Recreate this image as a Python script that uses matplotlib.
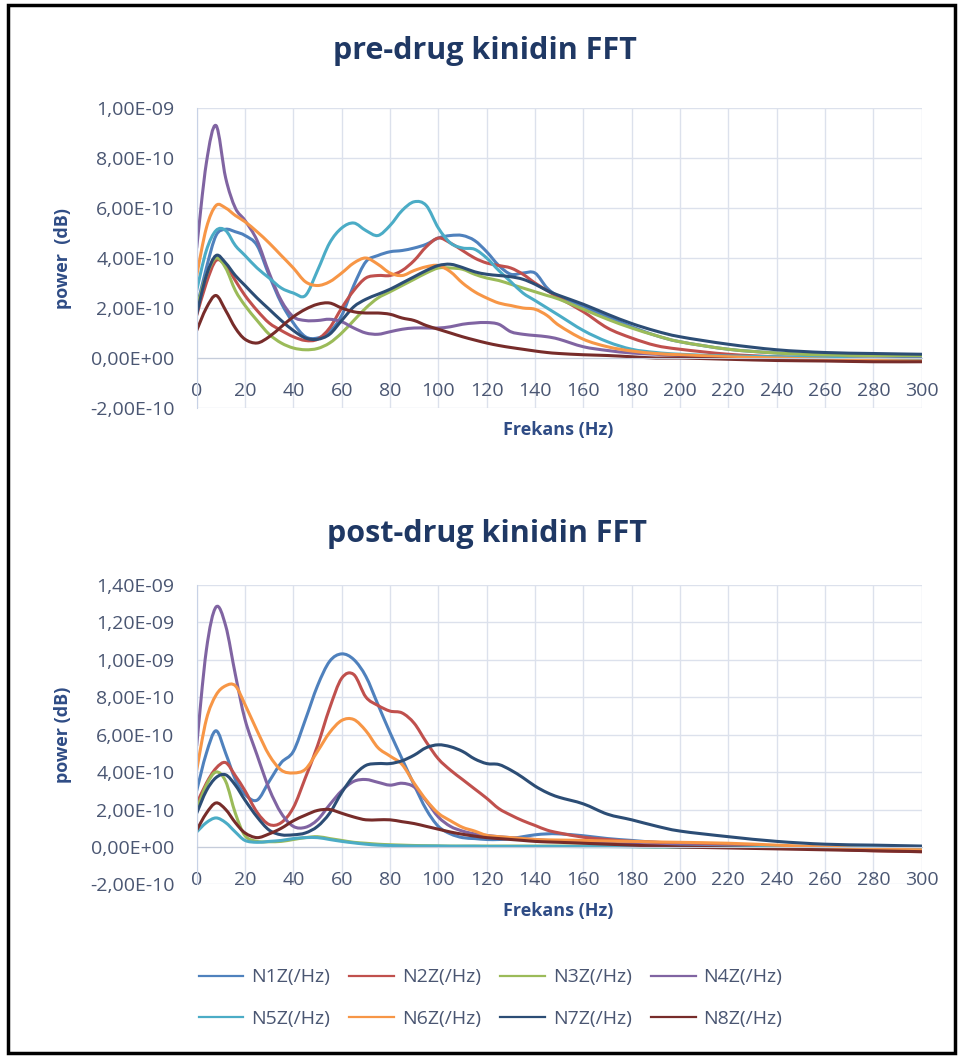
import numpy as np
import matplotlib
matplotlib.use("Agg")
import matplotlib.pyplot as plt
from matplotlib.path import Path
from matplotlib.patches import PathPatch, Rectangle
from matplotlib.lines import Line2D
from matplotlib.ticker import FuncFormatter

plt.rcParams['font.family'] = ['Open Sans', 'DejaVu Sans']

# frequency grid (Hz), values in units of 1e-10
freq = [0, 4, 8, 12, 16, 20, 25, 30, 35, 40,
        45, 50, 55, 60, 65, 70, 75, 80, 85, 90,
        95, 100, 105, 110, 115, 120, 125, 130, 135, 140,
        145, 150, 160, 170, 180, 190, 200, 220, 240, 260,
        280, 300]
UNIT = 1e-10

names = ["N1Z(/Hz)", "N2Z(/Hz)", "N3Z(/Hz)", "N4Z(/Hz)",
         "N5Z(/Hz)", "N6Z(/Hz)", "N7Z(/Hz)", "N8Z(/Hz)"]
colors = ['#4F81BD', '#C0504D', '#9BBB59', '#8064A2',
          '#4BACC6', '#F79646', '#2C4D75', '#772C2A']

# ---- pre-drug ----
pre_n1 = [2.0, 3.6, 4.9, 5.15, 5.05, 4.9, 4.5, 3.3, 2.2, 1.4,
          0.85, 0.8, 1.05, 1.7, 2.9, 3.85, 4.1, 4.25, 4.3, 4.4,
          4.55, 4.8, 4.9, 4.9, 4.7, 4.25, 3.7, 3.35, 3.4, 3.4,
          2.8, 2.45, 2.05, 1.65, 1.25, 0.9, 0.65, 0.35, 0.2, 0.12,
          0.08, 0.05]
pre_n2 = [1.7, 3.0, 3.9, 3.7, 3.1, 2.5, 1.9, 1.4, 1.1, 0.85,
          0.7, 0.75, 1.2, 2.0, 2.7, 3.2, 3.3, 3.3, 3.5, 3.9,
          4.45, 4.8, 4.6, 4.3, 4.0, 3.8, 3.7, 3.6, 3.35, 3.0,
          2.7, 2.4, 1.85, 1.2, 0.8, 0.5, 0.35, 0.15, 0.05, 0.0,
          -0.05, -0.05]
pre_n3 = [2.0, 3.3, 4.0, 3.6, 2.7, 2.1, 1.5, 0.95, 0.6, 0.4,
          0.33, 0.38, 0.6, 1.0, 1.5, 2.0, 2.4, 2.65, 2.9, 3.15,
          3.4, 3.6, 3.6, 3.55, 3.35, 3.2, 3.1, 2.95, 2.8, 2.65,
          2.5, 2.35, 1.95, 1.55, 1.2, 0.9, 0.65, 0.35, 0.2, 0.12,
          0.1, 0.1]
pre_n4 = [4.4, 7.8, 9.3, 7.2, 6.0, 5.5, 4.7, 3.4, 2.3, 1.65,
          1.5, 1.5, 1.55, 1.45, 1.2, 1.0, 0.95, 1.05, 1.15, 1.2,
          1.2, 1.2, 1.25, 1.35, 1.4, 1.42, 1.35, 1.05, 0.95, 0.9,
          0.85, 0.75, 0.45, 0.3, 0.2, 0.15, 0.1, 0.05, 0.0, -0.05,
          -0.1, -0.1]
pre_n5 = [2.7, 4.3, 5.1, 5.1, 4.5, 4.1, 3.6, 3.2, 2.8, 2.6,
          2.5, 3.5, 4.6, 5.2, 5.4, 5.1, 4.9, 5.3, 5.9, 6.25,
          6.1, 5.2, 4.6, 4.4, 4.35, 4.0, 3.5, 3.05, 2.6, 2.3,
          2.0, 1.7, 1.1, 0.65, 0.35, 0.22, 0.15, 0.08, 0.05, 0.0,
          -0.05, -0.05]
pre_n6 = [3.3, 5.2, 6.1, 6.0, 5.7, 5.45, 5.05, 4.6, 4.1, 3.6,
          3.05, 2.9, 3.05, 3.4, 3.8, 4.0, 3.75, 3.4, 3.3, 3.5,
          3.65, 3.7, 3.45, 3.0, 2.65, 2.4, 2.2, 2.1, 2.0, 1.95,
          1.7, 1.3, 0.75, 0.45, 0.28, 0.18, 0.13, 0.05, 0.0, -0.05,
          -0.1, -0.12]
pre_n7 = [1.75, 3.3, 4.1, 3.8, 3.3, 2.9, 2.4, 1.95, 1.5, 1.1,
          0.8, 0.75, 0.95, 1.5, 2.05, 2.35, 2.55, 2.75, 3.0, 3.25,
          3.5, 3.7, 3.75, 3.62, 3.45, 3.35, 3.3, 3.25, 3.15, 2.95,
          2.7, 2.5, 2.15, 1.75, 1.38, 1.08, 0.85, 0.55, 0.33, 0.22,
          0.18, 0.15]
pre_n8 = [1.1, 2.0, 2.5, 1.9, 1.2, 0.75, 0.6, 0.85, 1.25, 1.65,
          1.95, 2.15, 2.2, 2.0, 1.85, 1.8, 1.8, 1.75, 1.6, 1.5,
          1.3, 1.15, 1.0, 0.85, 0.72, 0.6, 0.5, 0.42, 0.35, 0.28,
          0.22, 0.18, 0.13, 0.1, 0.05, 0.0, 0.0, -0.05, -0.1, -0.12,
          -0.15, -0.15]

# ---- post-drug ----
post_n1 = [3.0, 5.0, 6.2, 5.0, 3.6, 2.8, 2.5, 3.5, 4.5, 5.1,
           6.8, 8.6, 9.9, 10.3, 10.0, 9.1, 7.6, 6.1, 4.7, 3.3,
           2.0, 1.1, 0.7, 0.5, 0.45, 0.4, 0.4, 0.45, 0.55, 0.65,
           0.7, 0.7, 0.6, 0.45, 0.35, 0.25, 0.2, 0.1, 0.0, -0.1,
           -0.15, -0.2]
post_n2 = [2.3, 3.4, 4.2, 4.5, 3.8, 3.0, 1.85, 1.2, 1.3, 2.1,
           3.7, 5.4, 7.4, 9.0, 9.2, 8.0, 7.55, 7.25, 7.15, 6.6,
           5.6, 4.7, 4.1, 3.6, 3.1, 2.6, 2.05, 1.7, 1.4, 1.15,
           0.9, 0.75, 0.52, 0.4, 0.3, 0.25, 0.2, 0.1, 0.0, -0.1,
           -0.2, -0.25]
post_n3 = [2.0, 3.3, 4.0, 3.5, 1.8, 0.6, 0.3, 0.28, 0.3, 0.4,
           0.5, 0.55, 0.45, 0.35, 0.25, 0.2, 0.15, 0.12, 0.1, 0.08,
           0.07, 0.06, 0.05, 0.05, 0.05, 0.05, 0.05, 0.05, 0.05, 0.05,
           0.05, 0.05, 0.05, 0.05, 0.03, 0.0, 0.0, -0.02, -0.05, -0.08,
           -0.1, -0.1]
post_n4 = [5.4, 10.5, 12.8, 11.8, 9.2, 6.8, 4.9, 3.1, 1.8, 1.1,
           1.05, 1.45, 2.25, 3.0, 3.5, 3.6, 3.45, 3.3, 3.4, 3.2,
           2.45, 1.6, 1.1, 0.85, 0.7, 0.62, 0.55, 0.5, 0.45, 0.4,
           0.35, 0.32, 0.25, 0.2, 0.15, 0.1, 0.08, 0.0, -0.05, -0.1,
           -0.15, -0.2]
post_n5 = [0.8, 1.3, 1.55, 1.3, 0.8, 0.35, 0.25, 0.3, 0.35, 0.45,
           0.5, 0.5, 0.4, 0.3, 0.22, 0.15, 0.1, 0.08, 0.06, 0.05,
           0.05, 0.05, 0.04, 0.04, 0.04, 0.03, 0.03, 0.03, 0.03, 0.03,
           0.03, 0.03, 0.02, 0.02, 0.01, 0.0, 0.0, -0.02, -0.03, -0.04,
           -0.05, -0.05]
post_n6 = [4.1, 6.8, 8.1, 8.6, 8.6, 7.6, 6.2, 4.9, 4.1, 3.95,
           4.15, 5.1, 6.1, 6.75, 6.8, 6.2, 5.3, 4.85, 4.4, 3.4,
           2.5, 1.8, 1.4, 1.05, 0.85, 0.62, 0.55, 0.5, 0.45, 0.4,
           0.38, 0.37, 0.35, 0.32, 0.3, 0.27, 0.25, 0.2, 0.1, 0.0,
           -0.1, -0.15]
post_n7 = [1.8, 3.0, 3.7, 3.85, 3.3, 2.5, 1.6, 0.9, 0.65, 0.65,
           0.75, 1.1, 1.8, 2.9, 3.8, 4.35, 4.45, 4.45, 4.6, 4.9,
           5.3, 5.45, 5.35, 5.1, 4.7, 4.45, 4.4, 4.1, 3.7, 3.25,
           2.9, 2.65, 2.3, 1.75, 1.45, 1.12, 0.85, 0.55, 0.3, 0.15,
           0.1, 0.05]
post_n8 = [0.9, 1.8, 2.35, 2.0, 1.3, 0.75, 0.5, 0.7, 1.0, 1.4,
           1.7, 1.95, 2.0, 1.8, 1.6, 1.45, 1.45, 1.45, 1.35, 1.25,
           1.1, 0.95, 0.8, 0.68, 0.58, 0.5, 0.45, 0.4, 0.35, 0.3,
           0.27, 0.25, 0.2, 0.15, 0.1, 0.05, 0.0, -0.05, -0.1, -0.15,
           -0.2, -0.25]

pre = [pre_n1, pre_n2, pre_n3, pre_n4, pre_n5, pre_n6, pre_n7, pre_n8]
post = [post_n1, post_n2, post_n3, post_n4, post_n5, post_n6, post_n7, post_n8]

TXT = '#4A5672'
NAVY = '#1F3864'
LBL = '#2F4C85'


def smooth_path(x, y):
    # smoothed line like excel (catmull-rom as bezier segments)
    pts = np.column_stack([np.asarray(x, float), np.asarray(y, float)])
    n = len(pts)
    verts = [pts[0]]
    codes = [Path.MOVETO]
    for i in range(n - 1):
        p0 = pts[max(i - 1, 0)]
        p1 = pts[i]
        p2 = pts[i + 1]
        p3 = pts[min(i + 2, n - 1)]
        verts += [p1 + (p2 - p0) / 6, p2 - (p3 - p1) / 6, p2]
        codes += [Path.CURVE4] * 3
    return Path(verts, codes)


def sci(v, pos):
    return format(v, '.2E').replace('.', ',')


def draw(ax, data, ymax, ylabel):
    ax.set_xlim(0, 300)
    ax.set_ylim(-2 * UNIT, ymax * UNIT)
    ax.set_xticks(np.arange(0, 301, 20))
    ax.set_yticks(np.arange(-2, ymax + 0.1, 2) * UNIT)
    ax.yaxis.set_major_formatter(FuncFormatter(sci))
    ax.grid(True, color='#DCE1EC', lw=1.0)
    ax.set_axisbelow(True)
    for s in ['top', 'right']:
        ax.spines[s].set_visible(False)
    ax.spines['bottom'].set_position(('data', 0))
    ax.spines['bottom'].set_color('#C5CCDA')
    ax.spines['left'].set_color('#C8D2E6')
    ax.tick_params(length=0, labelsize=14, colors=TXT)
    ax.tick_params(axis='x', pad=17)
    ax.tick_params(axis='y', pad=16)
    for vals, c in zip(data, colors):
        y = np.array(vals) * UNIT
        ax.add_patch(PathPatch(smooth_path(freq, y), fill=False, ec=c,
                               lw=2.2, capstyle='round', joinstyle='round'))
    ax.set_ylabel(ylabel, fontsize=13, fontweight='bold', color=LBL)
    ax.yaxis.set_label_coords(-0.172, 0.5)


fig = plt.figure(figsize=(9.58, 10.57), dpi=100)
ax1 = fig.add_axes([0.2053, 0.614, 0.7568, 0.2838])
ax2 = fig.add_axes([0.2053, 0.1632, 0.7568, 0.2838])

draw(ax1, pre, 10, 'power  (dB)')
draw(ax2, post, 14, 'power (dB)')

fig.text(0.506, 1 - 51 / 1057, 'pre-drug kinidin FFT', ha='center', va='center',
         fontsize=22, fontweight='bold', color=NAVY)
fig.text(0.508, 1 - 534 / 1057, 'post-drug kinidin FFT', ha='center', va='center',
         fontsize=22, fontweight='bold', color=NAVY)
fig.text(0.5825, 1 - 430 / 1057, 'Frekans (Hz)', ha='center', va='center',
         fontsize=13, fontweight='bold', color=LBL)
fig.text(0.5825, 1 - 911 / 1057, 'Frekans (Hz)', ha='center', va='center',
         fontsize=13, fontweight='bold', color=LBL)

# legend fills by column, so interleave to get N1..N4 on the first row
order = [0, 4, 1, 5, 2, 6, 3, 7]
handles = [Line2D([], [], color=colors[i], lw=1.6) for i in order]
labels = [names[i] for i in order]
fig.legend(handles, labels, loc='center', bbox_to_anchor=(0.512, 1 - 998 / 1057),
           ncol=4, frameon=False, fontsize=14, labelcolor=TXT,
           handlelength=2.3, handletextpad=0.4, columnspacing=1.0,
           labelspacing=1.2)

fig.patches.append(Rectangle((8 / 958, 4 / 1057), 947 / 958, 1048 / 1057,
                             transform=fig.transFigure, fill=False,
                             ec='black', lw=2.5))

fig.savefig('out.png', dpi=100)
